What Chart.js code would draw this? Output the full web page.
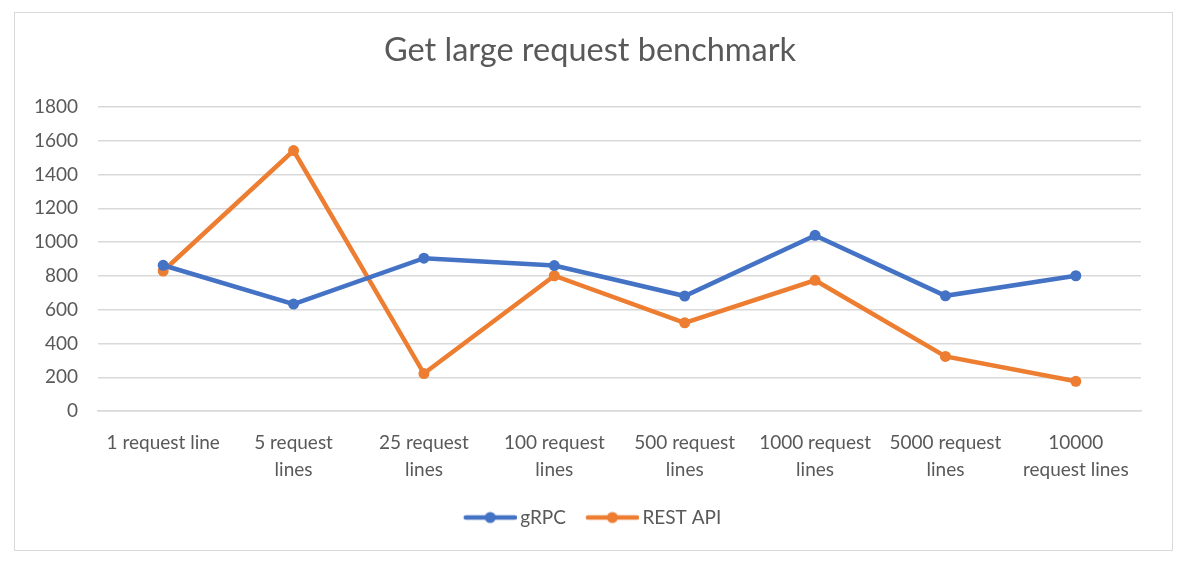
<!DOCTYPE html>
<html>
<head>
<meta charset="utf-8">
<script src="https://cdn.jsdelivr.net/npm/chart.js@4/dist/chart.umd.min.js"></script>
<style>
  body { margin: 0; background: #fff; }
  #box { position: absolute; left: 14px; top: 12px; width: 1157px; height: 537px; border: 1px solid #d9d9d9; }
</style>
</head>
<body>
<div id="box"><canvas id="line-chartcanvas" width="1157" height="537"></canvas></div>
<script>
const categories = [
  ["1 request line"],
  ["5 request", "lines"],
  ["25 request", "lines"],
  ["100 request", "lines"],
  ["500 request", "lines"],
  ["1000 request", "lines"],
  ["5000 request", "lines"],
  ["10000", "request lines"]
];
const grpcValues = [863, 633, 905, 861, 681, 1040, 682, 801];
const restValues = [829, 1542, 222, 801, 522, 774, 323, 176];
const seriesNames = ["gRPC", "REST API"];
const seriesColors = ["#4472C4", "#ED7D31"];
const yMin = 0, yMax = 1800, yStep = 200;

Chart.defaults.font.family = "Lato, 'Open Sans', sans-serif";
Chart.defaults.color = "#595959";

// line-with-dot marker for the legend, blank space on the left acts as item gap
function legendMarker(color) {
  let c = document.createElement("canvas");
  c.width = 72; c.height = 14;
  let g = c.getContext("2d");
  g.strokeStyle = color;
  g.lineWidth = 4.5;
  g.lineCap = "round";
  g.beginPath(); g.moveTo(21, 7); g.lineTo(70, 7); g.stroke();
  g.fillStyle = color;
  g.beginPath(); g.arc(45.5, 7, 5.5, 0, Math.PI * 2); g.fill();
  return c;
}

// title and legend are centred on the whole frame, not on the plot
const shiftBoxes = {
  id: "shiftBoxes",
  afterLayout: function(chart) {
    if (chart.titleBlock) { chart.titleBlock.left += 12; chart.titleBlock.right += 12; }
    if (chart.legend) { chart.legend.left += 8; chart.legend.right += 8; }
  }
};

let ctx = document.getElementById("line-chartcanvas");
let dataChart = {
  labels: categories,
  datasets: [
    {
      label: seriesNames[0],
      data: grpcValues,
      borderColor: seriesColors[0],
      backgroundColor: seriesColors[0],
      borderWidth: 4.5,
      pointRadius: 5.5,
      pointBorderWidth: 0,
      fill: false,
      tension: 0
    },
    {
      label: seriesNames[1],
      data: restValues,
      borderColor: seriesColors[1],
      backgroundColor: seriesColors[1],
      borderWidth: 4.5,
      pointRadius: 5.5,
      pointBorderWidth: 0,
      fill: false,
      tension: 0
    }
  ]
};
let options = {
  responsive: false,
  animation: false,
  layout: { padding: { left: 0, right: 31, top: 0, bottom: 13 } },
  plugins: {
    title: {
      display: true,
      text: "Get large request benchmark",
      font: { size: 32.5, weight: "normal" },
      color: "#595959",
      padding: { top: 18, bottom: 37 }
    },
    legend: {
      position: "bottom",
      labels: {
        usePointStyle: true,
        pointStyleWidth: 60,
        font: { size: 19 },
        padding: 7,
        generateLabels: function(chart) {
          let items = Chart.defaults.plugins.legend.labels.generateLabels(chart);
          items.forEach(function(it, i) { it.pointStyle = legendMarker(seriesColors[i]); });
          return items;
        }
      }
    },
    tooltip: { enabled: false }
  },
  scales: {
    x: {
      offset: true,
      grid: { display: false, drawTicks: false, offset: true },
      border: { display: true, color: "#d9d9d9", width: 1.5 },
      ticks: { autoSkip: false, maxRotation: 0, font: { size: 19, lineHeight: 1.42 }, padding: 18, color: "#595959" }
    },
    y: {
      min: yMin,
      max: yMax,
      afterFit: function(scale) { scale.width = 83; },
      grid: { color: "#d9d9d9", lineWidth: 1.5, drawTicks: false },
      border: { display: false },
      ticks: {
        stepSize: yStep,
        font: { size: 19 },
        padding: 20,
        color: "#595959",
        callback: function(v) { return String(v); }
      }
    }
  }
};
let chart = new Chart(ctx, { type: "line", data: dataChart, options: options, plugins: [shiftBoxes] });
</script>
</body>
</html>
